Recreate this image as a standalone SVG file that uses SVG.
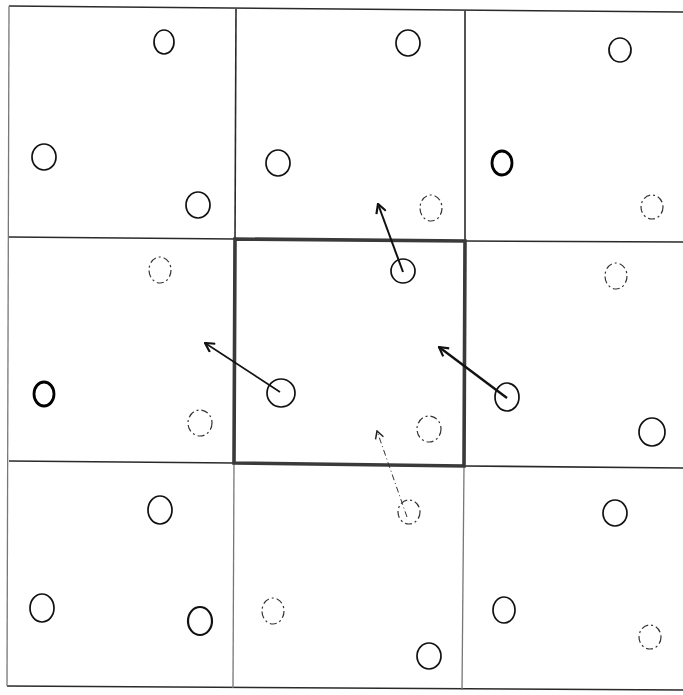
<svg xmlns="http://www.w3.org/2000/svg" width="683" height="695" viewBox="0 0 683 695">
<defs>
<style>
.grid{fill:none;stroke:#2a2a2a;stroke-width:1.6}
.faintgrid{fill:none;stroke:#777;stroke-width:1.3}
.box{fill:none;stroke:#3a3a3a;stroke-width:3.6}
.p{fill:none;stroke:#111;stroke-width:1.7}
.pb{fill:none;stroke:#000;stroke-width:2.8}
.pf{fill:none;stroke:#333;stroke-width:1.2;stroke-dasharray:7 3 2 3}
.arr{fill:none;stroke:#111;stroke-width:2}
.arrf{fill:none;stroke:#333;stroke-width:1;stroke-dasharray:6 3 1 3}
</style>
<marker id="ah" viewBox="0 0 12 12" refX="11" refY="6" markerWidth="12" markerHeight="12" orient="auto" markerUnits="userSpaceOnUse">
<path d="M2,1 L11,6 L2,11" fill="none" stroke="#111" stroke-width="2.2"/>
</marker>
<marker id="ahf" viewBox="0 0 12 12" refX="11" refY="6" markerWidth="10" markerHeight="10" orient="auto" markerUnits="userSpaceOnUse">
<path d="M2,1 L11,6 L2,11" fill="none" stroke="#222" stroke-width="1.8"/>
</marker>
</defs>
<rect width="683" height="695" fill="#fff"/>
<g id="grid">
<path class="grid" d="M9,6 L683,12"/>
<path class="grid" d="M9,237 L235,239"/>
<path class="grid" d="M465,241 L683,242"/>
<path class="grid" d="M9,461 L234,463"/>
<path class="grid" d="M464,466 L683,468"/>
<path class="grid" d="M7,686 L683,690"/>
<path class="faintgrid" d="M9,6 L7,686"/>
<path class="grid" d="M236,9 L235,239"/>
<path class="grid" d="M465,11 L465,241"/>
<path class="faintgrid" d="M234,463 L233,688"/>
<path class="faintgrid" d="M464,466 L462,690"/>
</g>
<g id="central-cell">
<path class="box" d="M235,239 L465,241 L464,466 L234,463 Z"/>
</g>
<g id="cell-top-left">
<ellipse class="p" cx="164" cy="42" rx="10" ry="12"/>
<ellipse class="p" cx="44" cy="157" rx="12" ry="13"/>
<ellipse class="p" cx="198" cy="205" rx="12" ry="13"/>
</g>
<g id="cell-top-middle">
<ellipse class="p" cx="408" cy="43" rx="12" ry="13"/>
<ellipse class="p" cx="278" cy="163" rx="12" ry="13"/>
<ellipse class="pf" cx="431" cy="208" rx="11" ry="13"/>
</g>
<g id="cell-top-right">
<ellipse class="p" cx="620" cy="50" rx="11" ry="12"/>
<ellipse class="pb" cx="502" cy="163" rx="10" ry="12"/>
<ellipse class="pf" cx="652" cy="207" rx="11" ry="12"/>
</g>
<g id="cell-middle-left">
<ellipse class="pf" cx="160" cy="270" rx="11" ry="13"/>
<ellipse class="pb" cx="44" cy="394" rx="10" ry="12"/>
<ellipse class="pf" cx="200" cy="423" rx="12" ry="13"/>
</g>
<g id="cell-center">
<ellipse class="p" cx="403" cy="271" rx="12" ry="12"/>
<ellipse class="p" cx="281" cy="393" rx="14" ry="14"/>
<ellipse class="pf" cx="429" cy="429" rx="12" ry="13"/>
</g>
<g id="cell-middle-right">
<ellipse class="pf" cx="616" cy="276" rx="11" ry="13"/>
<ellipse class="p" cx="507" cy="397" rx="12" ry="14"/>
<ellipse class="p" cx="652" cy="432" rx="13" ry="14"/>
</g>
<g id="cell-bottom-left">
<ellipse class="p" cx="160" cy="510" rx="12" ry="14"/>
<ellipse class="p" cx="42" cy="608" rx="12" ry="14"/>
<ellipse class="p" cx="200" cy="621" rx="12" ry="14" style="stroke-width:2.2"/>
</g>
<g id="cell-bottom-middle">
<ellipse class="pf" cx="409" cy="512" rx="11" ry="12"/>
<ellipse class="pf" cx="273" cy="611" rx="11" ry="13"/>
<ellipse class="p" cx="429" cy="656" rx="12" ry="13"/>
</g>
<g id="cell-bottom-right">
<ellipse class="p" cx="615" cy="513" rx="12" ry="13"/>
<ellipse class="p" cx="504" cy="610" rx="11" ry="13"/>
<ellipse class="pf" cx="650" cy="637" rx="11" ry="12"/>
</g>
<g id="connectors">
<path class="arr" d="M403,272 L378,204" marker-end="url(#ah)"/>
<path class="arr" d="M280,392 L205,343" marker-end="url(#ah)" style="stroke-width:1.6"/>
<path class="arr" d="M507,398 L439,347" marker-end="url(#ah)" style="stroke-width:2.4"/>
<path class="arrf" d="M407,517 L377,431" marker-end="url(#ahf)"/>
</g>
</svg>
